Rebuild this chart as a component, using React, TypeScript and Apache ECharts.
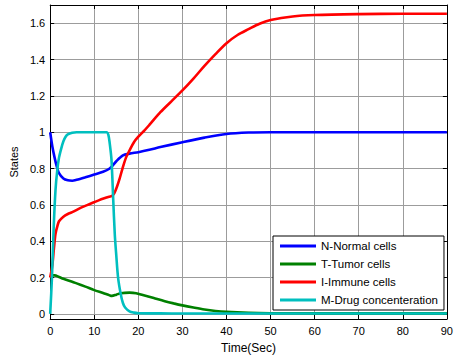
import React, { useEffect, useRef } from "react";
import * as echarts from "echarts";

// Time grids and values per state
const tN = [0, 0.5, 1, 1.5, 2, 3, 4, 5, 6, 8, 10, 12, 13.5, 15, 16.5, 18, 20, 22.5, 25, 30, 35, 40, 45, 50, 60, 70, 80, 90];
const vN = [1.0, 0.92, 0.86, 0.81, 0.775, 0.745, 0.735, 0.733, 0.738, 0.752, 0.767, 0.782, 0.8, 0.84, 0.872, 0.882, 0.89, 0.903, 0.918, 0.945, 0.97, 0.99, 0.998, 1.0, 1.0, 1.0, 1.0, 1.0];

const tT = [0, 0.5, 1, 2, 3, 5, 6, 8, 10, 12, 13.5, 14, 15, 16, 18, 19.5, 21, 23.5, 26, 28, 30, 32.5, 35, 37.5, 40, 45, 50, 60, 70, 90];
const vT = [0.2, 0.212, 0.212, 0.203, 0.193, 0.177, 0.168, 0.15, 0.131, 0.115, 0.102, 0.099, 0.106, 0.114, 0.117, 0.114, 0.104, 0.087, 0.07, 0.058, 0.047, 0.035, 0.024, 0.016, 0.011, 0.006, 0.004, 0.003, 0.003, 0.003];

const tI = [0, 0.5, 0.85, 1.2, 1.6, 2, 3, 4, 5, 7, 9, 11, 13, 14.2, 15, 15.7, 16.4, 17.2, 18, 19, 20, 21.4, 22.5, 25, 27.5, 30, 32.5, 35, 37.5, 40, 42.5, 45, 47.5, 50, 55, 60, 70, 80, 90];
const vI = [0.2, 0.27, 0.36, 0.44, 0.48, 0.51, 0.535, 0.55, 0.56, 0.585, 0.605, 0.625, 0.642, 0.652, 0.69, 0.74, 0.8, 0.86, 0.9, 0.945, 0.975, 1.01, 1.04, 1.11, 1.17, 1.23, 1.295, 1.365, 1.43, 1.49, 1.535, 1.567, 1.597, 1.617, 1.637, 1.645, 1.65, 1.652, 1.652];

const tM = [0, 0.4, 0.8, 1.2, 1.6, 2, 2.5, 3, 3.5, 4, 5, 6, 8, 10, 12, 12.8, 13.2, 13.5, 13.9, 14.3, 14.65, 15, 15.4, 16, 16.5, 17, 18, 19, 20, 25, 30, 40, 50, 60, 70, 80, 90];
const vM = [0, 0.2, 0.48, 0.68, 0.79, 0.86, 0.91, 0.95, 0.975, 0.988, 0.997, 1.0, 1.0, 1.0, 1.0, 1.0, 0.985, 0.94, 0.85, 0.63, 0.44, 0.32, 0.2, 0.11, 0.06, 0.035, 0.014, 0.007, 0.004, 0.003, 0.002, 0.002, 0.002, 0.002, 0.002, 0.002, 0.002];

const seriesNames = ["N-Normal cells", "T-Tumor cells", "I-Immune cells", "M-Drug concenteration"];
const seriesColors = ["#0000ff", "#008000", "#ff0000", "#00bfbf"];
const seriesTimes = [tN, tT, tI, tM];
const seriesValues = [vN, vT, vI, vM];

const xMin = 0;
const xMax = 90;
const xInterval = 10;
const yMin = -0.028;
const yMax = 1.7;

const FONT = "Arial, 'Liberation Sans', sans-serif";

export default function App() {
  const ref = useRef<HTMLDivElement>(null);

  useEffect(() => {
    if (!ref.current) return;
    const chart = echarts.init(ref.current, undefined, { renderer: "svg" });

    const axisLine = { show: true, onZero: false, lineStyle: { color: "#000", width: 1 } };
    const tick = { show: true, inside: true, length: 4, lineStyle: { color: "#000" } };
    const split = { show: true, lineStyle: { color: "#9c9c9c", width: 1 } };

    chart.setOption({
      animation: false,
      backgroundColor: "#fff",
      grid: { left: 50, right: 4, top: 5, bottom: 36, containLabel: false },
      legend: {
        data: seriesNames,
        orient: "vertical",
        left: 273,
        top: 236,
        icon: "path://M0,0 L36,0 L36,3 L0,3 Z",
        itemWidth: 36,
        itemHeight: 14,
        itemGap: 4,
        padding: [3, 6, 3, 7],
        borderColor: "#000",
        borderWidth: 1,
        backgroundColor: "#fff",
        textStyle: { fontFamily: FONT, fontSize: 11.5, color: "#000", lineHeight: 14 },
      },
      xAxis: [
        {
          type: "value",
          min: xMin,
          max: xMax,
          interval: xInterval,
          position: "bottom",
          axisLine,
          axisTick: tick,
          splitLine: split,
          axisLabel: { fontFamily: FONT, fontSize: 11, color: "#000", margin: 6 },
          name: "Time(Sec)",
          nameLocation: "middle",
          nameGap: 23,
          nameTextStyle: { fontFamily: FONT, fontSize: 12, color: "#000" },
        },
        {
          type: "value",
          min: xMin,
          max: xMax,
          interval: xInterval,
          position: "top",
          axisLine,
          axisTick: tick,
          splitLine: { show: false },
          axisLabel: { show: false },
        },
      ],
      yAxis: [
        {
          type: "value",
          min: yMin,
          max: yMax,
          splitNumber: 9,
          minInterval: 0.2,
          maxInterval: 0.2,
          position: "left",
          axisLine,
          axisTick: tick,
          splitLine: split,
          axisLabel: {
            fontFamily: FONT,
            fontSize: 11,
            color: "#000",
            margin: 5,
            showMinLabel: false,
            showMaxLabel: false,
          },
          name: "States",
          nameLocation: "middle",
          nameGap: 31,
          nameTextStyle: { fontFamily: FONT, fontSize: 11, color: "#000" },
        },
        {
          type: "value",
          min: yMin,
          max: yMax,
          splitNumber: 9,
          minInterval: 0.2,
          maxInterval: 0.2,
          position: "right",
          axisLine,
          axisTick: tick,
          splitLine: { show: false },
          axisLabel: { show: false },
        },
      ],
      series: seriesNames.map((name, i) => ({
        name,
        type: "line",
        xAxisIndex: 0,
        yAxisIndex: 0,
        symbol: "none",
        showSymbol: false,
        smooth: 0.3,
        color: seriesColors[i],
        lineStyle: { color: seriesColors[i], width: 2.6 },
        data: seriesTimes[i].map((t, k) => [t, seriesValues[i][k]]),
      })),
    });

    return () => chart.dispose();
  }, []);

  return (
    <div
      ref={ref}
      style={{ position: "fixed", left: 0, top: 0, width: 456, height: 359, background: "#fff" }}
    />
  );
}
